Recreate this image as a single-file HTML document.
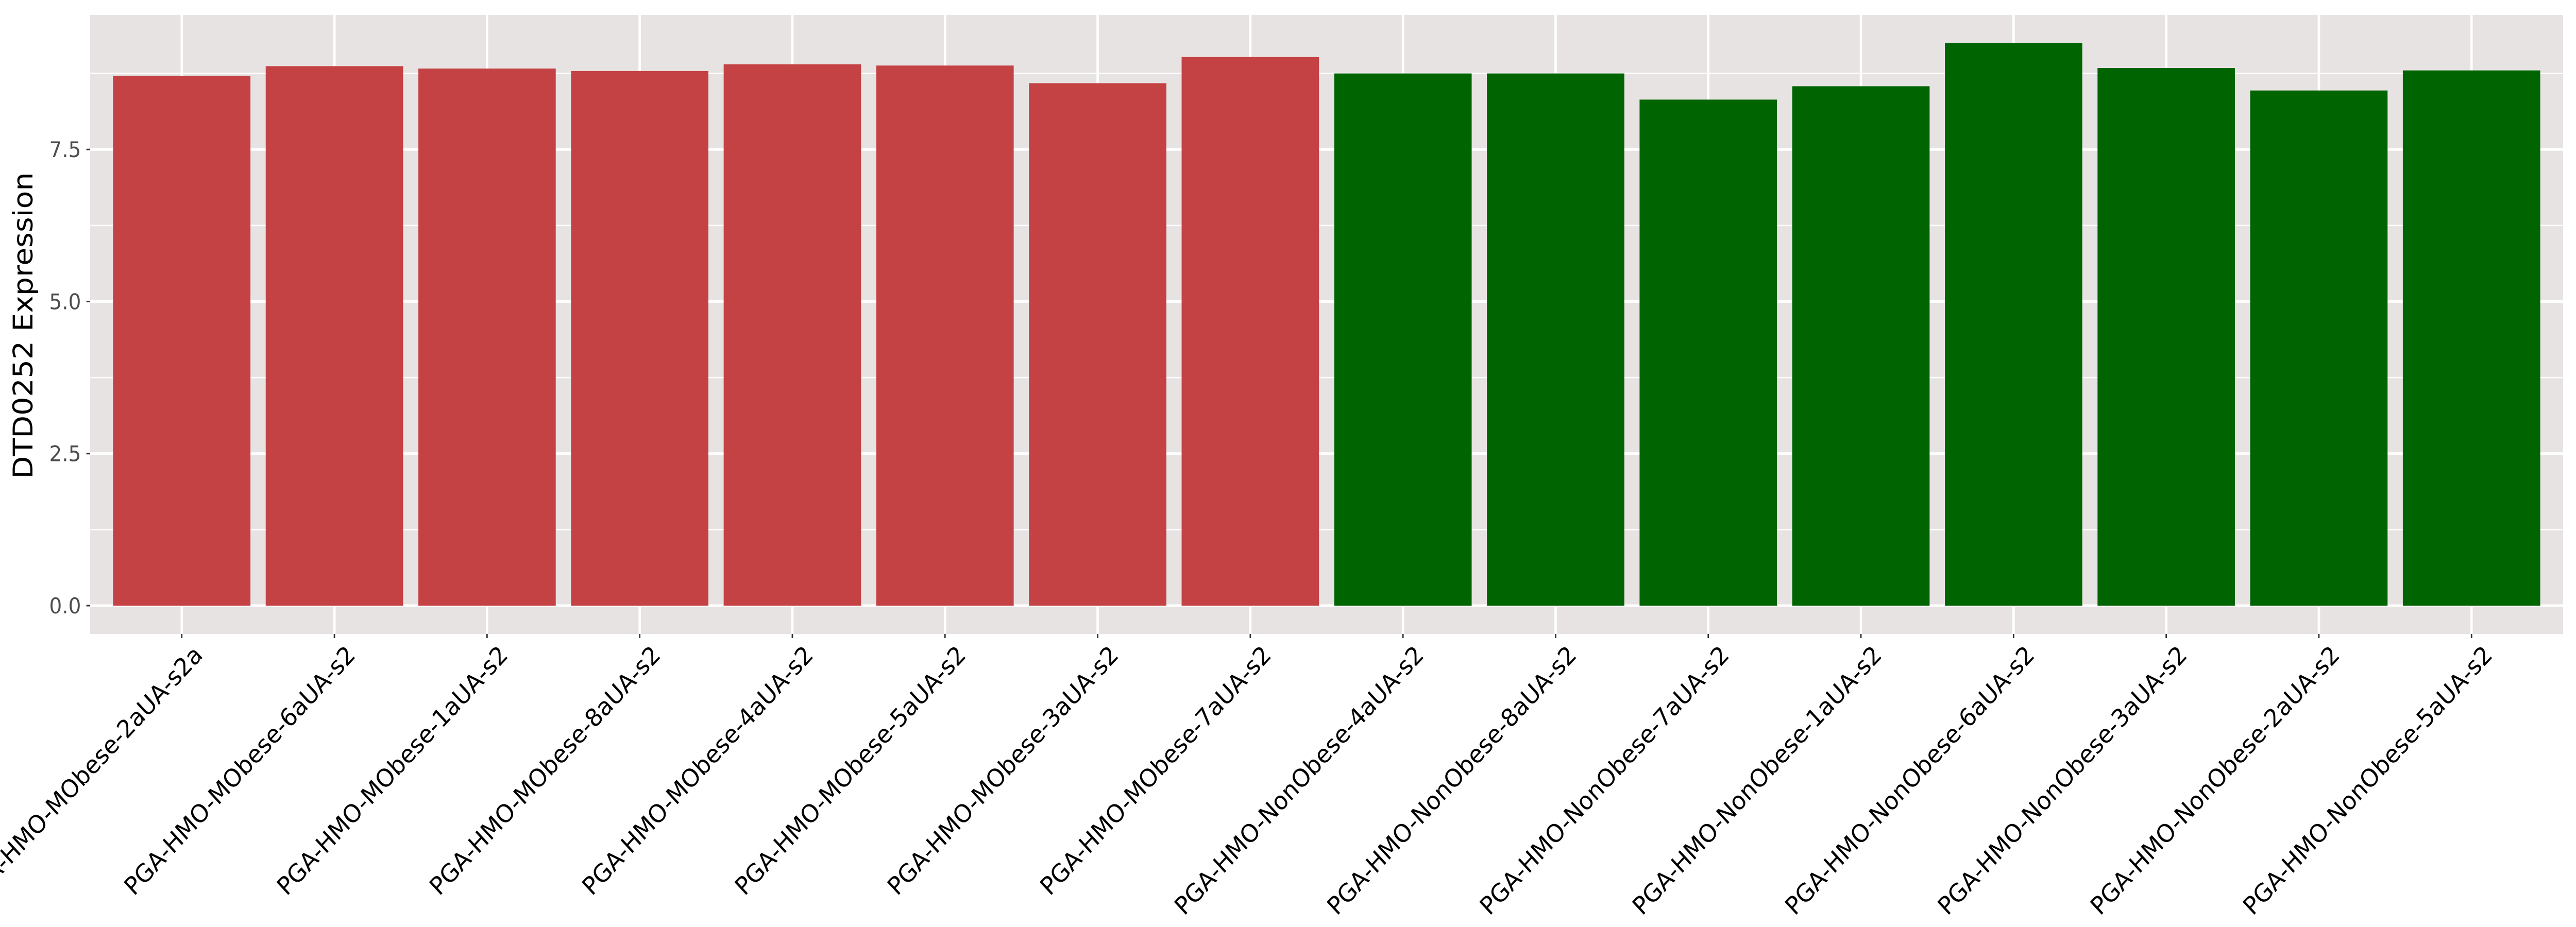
<!DOCTYPE html>
<html><head><meta charset="utf-8"><style>
html,body{margin:0;padding:0;background:#fff;width:100vw;height:100vh;overflow:hidden;}
svg{display:block;font-family:"DejaVu Sans","Liberation Sans",sans-serif;width:100vw;height:100vh;}
</style></head><body>
<svg id="chart" viewBox="0 0 5400 1800" preserveAspectRatio="none" xmlns="http://www.w3.org/2000/svg">
<rect x="189" y="29" width="5184" height="1202" fill="#E8E3E3"/>
<g id="grid"></g>
<g id="bars"></g>
<g id="yaxis"></g>
<g id="xaxis"></g>
<text x="0" y="0" transform="translate(68,632) rotate(-90)" text-anchor="middle" font-size="57" fill="#000">DTD0252 Expression</text>
</svg>
<script>
const categories = ["PGA-HMO-MObese-2aUA-s2a","PGA-HMO-MObese-6aUA-s2","PGA-HMO-MObese-1aUA-s2","PGA-HMO-MObese-8aUA-s2","PGA-HMO-MObese-4aUA-s2","PGA-HMO-MObese-5aUA-s2","PGA-HMO-MObese-3aUA-s2","PGA-HMO-MObese-7aUA-s2","PGA-HMO-NonObese-4aUA-s2","PGA-HMO-NonObese-8aUA-s2","PGA-HMO-NonObese-7aUA-s2","PGA-HMO-NonObese-1aUA-s2","PGA-HMO-NonObese-6aUA-s2","PGA-HMO-NonObese-3aUA-s2","PGA-HMO-NonObese-2aUA-s2","PGA-HMO-NonObese-5aUA-s2"];
const values = [8.71,8.87,8.83,8.79,8.90,8.88,8.59,9.02,8.75,8.75,8.32,8.54,9.25,8.84,8.47,8.80];
const groups = ["MObese","MObese","MObese","MObese","MObese","MObese","MObese","MObese","NonObese","NonObese","NonObese","NonObese","NonObese","NonObese","NonObese","NonObese"];
const yTicks = [0,2.5,5,7.5];
const yTickLabels = ["0.0","2.5","5.0","7.5"];
const yMinor = [1.25,3.75,6.25,8.75];

const NS="http://www.w3.org/2000/svg";
const panelL=189, panelR=5373, panelT=29, panelB=1231;
const y0=1176, yUnit=118.1;
const step=(panelR-panelL)/(categories.length+0.2);
function xScale(i){return panelL+(0.6+i)*step;}
function yScale(v){return y0-v*yUnit;}
const colors={MObese:"#C44244",NonObese:"#006400"};
function mk(tag,attrs,parent){const e=document.createElementNS(NS,tag);for(const k in attrs)e.setAttribute(k,attrs[k]);parent.appendChild(e);return e;}
const grid=document.getElementById('grid'), bars=document.getElementById('bars'), ya=document.getElementById('yaxis'), xa=document.getElementById('xaxis');
yMinor.forEach(v=>{const l=mk('line',{x1:panelL,x2:panelR,y1:yScale(v),y2:yScale(v),stroke:'#fff','stroke-width':2.5},grid);

});
yTicks.forEach((v,i)=>{const l=mk('line',{x1:panelL,x2:panelR,y1:yScale(v),y2:yScale(v),stroke:'#fff','stroke-width':5},grid);


const t=mk('line',{x1:181,x2:panelL,y1:yScale(v),y2:yScale(v),stroke:'#333','stroke-width':3},ya);


const tx=mk('text',{x:170,y:yScale(v)+15,'text-anchor':'end','font-size':42,fill:'#4d4d4d'},ya);
tx.textContent=yTickLabels[i];

});
categories.forEach((c,i)=>{const cx=xScale(i);
const g=mk('line',{x1:cx,x2:cx,y1:panelT,y2:panelB,stroke:'#fff','stroke-width':5},grid);


const bw=step*0.9;
const r=mk('rect',{x:cx-bw/2,y:yScale(values[i]),width:bw,height:yScale(0)-yScale(values[i]),fill:colors[groups[i]]},bars);


const t=mk('line',{x1:cx,x2:cx,y1:panelB,y2:panelB+8,stroke:'#333','stroke-width':3},xa);


const tx=mk('text',{x:0,y:0,dy:'0.72em','text-anchor':'end','font-size':48,fill:'#000',transform:'translate('+(cx+22)+',1250) rotate(-45)'},xa);
tx.textContent=c;

});
</script>
</body></html>
